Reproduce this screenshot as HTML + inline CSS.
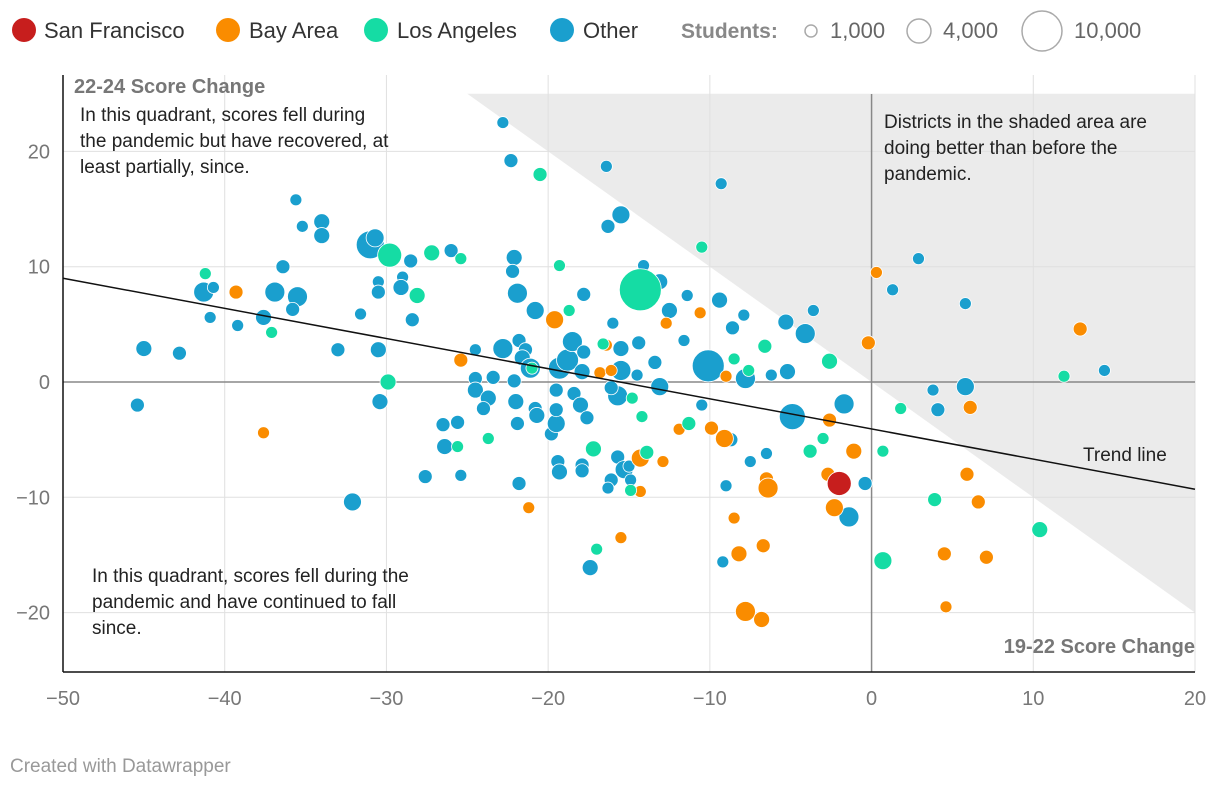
<!DOCTYPE html>
<html><head><meta charset="utf-8">
<style>
body{margin:0;background:#fff;font-family:"Liberation Sans",Arial,sans-serif;}
svg{display:block}
</style></head>
<body>
<svg id="chart" width="1220" height="788" viewBox="0 0 1220 788" xmlns="http://www.w3.org/2000/svg">
  <g font-size="22" fill="#333">
    <g><circle cx="24" cy="30" r="12" fill="#c71e1d"/><text x="44" y="38">San Francisco</text></g>
    <g><circle cx="228" cy="30" r="12" fill="#fa8c00"/><text x="249" y="38">Bay Area</text></g>
    <g><circle cx="376" cy="30" r="12" fill="#15dca4"/><text x="397" y="38">Los Angeles</text></g>
    <g><circle cx="562" cy="30" r="12" fill="#1a9fce"/><text x="583" y="38">Other</text></g>
    <text x="681" y="38" font-weight="bold" fill="#888" font-size="21">Students:</text>
    <g><circle cx="811" cy="31" r="6" fill="none" stroke="#aaa" stroke-width="1.5"/><text x="830" y="38" fill="#666">1,000</text></g>
    <g><circle cx="919" cy="31" r="12" fill="none" stroke="#aaa" stroke-width="1.5"/><text x="943" y="38" fill="#666">4,000</text></g>
    <g><circle cx="1042" cy="31" r="20" fill="none" stroke="#aaa" stroke-width="1.5"/><text x="1074" y="38" fill="#666">10,000</text></g>
  </g>
  <g id="plot"></g>
  <text x="10" y="772" font-size="19" fill="#999">Created with Datawrapper</text>
</svg>
<script>
const xTicks=[-50,-40,-30,-20,-10,0,10,20];
const yTicks=[20,10,0,-10,-20];
const regionNames=["Other","San Francisco","Bay Area","Los Angeles"];
const colors=["#1a9fce","#c71e1d","#fa8c00","#15dca4"];
const xs=[-22.8,-22.3,-16.4,-9.3,-35.6,-15.5,-16.3,-34.0,-35.2,-34.0,-31.0,-30.7,-26.0,-22.1,-22.2,-36.4,-28.5,-29.0,-30.5,-29.1,-21.9,-17.8,-14.1,-13.1,-11.4,-9.4,-7.9,-8.6,-3.6,-5.3,-4.1,2.9,1.3,5.8,14.4,5.8,3.8,4.1,-1.7,-0.4,-1.4,-4.9,-5.2,-6.2,-7.8,-10.1,-10.5,-8.7,-7.5,-6.5,-9.0,-9.2,-41.3,-40.7,-40.9,-39.2,-37.6,-36.9,-35.5,-35.8,-31.6,-28.4,-30.5,-45.0,-42.8,-45.4,-33.0,-30.5,-30.4,-32.1,-27.6,-26.4,-26.5,-25.6,-25.4,-24.5,-24.5,-23.4,-24.5,-23.7,-24.0,-22.8,-21.8,-21.4,-21.6,-22.1,-21.1,-22.0,-21.9,-20.8,-20.7,-20.8,-19.8,-19.5,-19.5,-19.3,-18.8,-18.5,-17.8,-17.9,-18.4,-18.0,-17.6,-19.4,-19.3,-17.9,-17.9,-21.8,-16.0,-15.5,-15.5,-15.7,-16.1,-15.7,-15.3,-16.1,-16.3,-14.9,-15.0,-17.4,-14.5,-13.4,-13.1,-12.5,-11.6,-14.4,-19.5,
-39.3,-37.6,-25.4,-19.6,-21.2,-16.8,-16.4,-16.1,-12.7,-10.6,-14.3,-12.9,-14.3,-15.5,-11.9,-9.9,-9.1,-9.0,-8.5,-8.2,-7.8,-6.7,-6.8,-6.5,-6.4,-2.6,-2.7,-2.3,-1.1,-0.2,0.3,6.1,5.9,6.6,4.5,4.6,7.1,12.9,
-41.2,-37.1,-29.8,-27.2,-25.4,-28.1,-29.9,-20.5,-19.3,-14.3,-10.5,-18.7,-16.6,-14.8,-14.2,-13.9,-14.9,-17.2,-23.7,-25.6,-21.0,-11.3,-8.5,-7.6,-6.6,-2.6,-3.0,-3.8,0.7,0.7,1.8,3.9,10.4,11.9,-17.0,
-2.0];
const ys=[22.5,19.2,18.7,17.2,15.8,14.5,13.5,13.9,13.5,12.7,11.9,12.5,11.4,10.8,9.6,10.0,10.5,9.1,8.7,8.2,7.7,7.6,10.1,8.7,7.5,7.1,5.8,4.7,6.2,5.2,4.2,10.7,8.0,6.8,1.0,-0.4,-0.7,-2.4,-1.9,-8.8,-11.7,-3.0,0.9,0.6,0.3,1.4,-2.0,-5.0,-6.9,-6.2,-9.0,-15.6,7.8,8.2,5.6,4.9,5.6,7.8,7.4,6.3,5.9,5.4,7.8,2.9,2.5,-2.0,2.8,2.8,-1.7,-10.4,-8.2,-5.6,-3.7,-3.5,-8.1,2.8,0.3,0.4,-0.7,-1.4,-2.3,2.9,3.6,2.8,2.1,0.1,1.2,-1.7,-3.6,-2.3,-2.9,6.2,-4.5,-3.6,-2.4,1.2,1.9,3.5,2.6,0.9,-1.0,-2.0,-3.1,-6.9,-7.8,-7.2,-7.7,-8.8,5.1,2.9,1.0,-1.2,-0.5,-6.5,-7.6,-8.5,-9.2,-8.5,-7.3,-16.1,0.6,1.7,-0.4,6.2,3.6,3.4,-0.7,
7.8,-4.4,1.9,5.4,-10.9,0.8,3.2,1.0,5.1,6.0,-6.6,-6.9,-9.5,-13.5,-4.1,-4.0,-4.9,0.5,-11.8,-14.9,-19.9,-14.2,-20.6,-8.4,-9.2,-3.3,-8.0,-10.9,-6.0,3.4,9.5,-2.2,-8.0,-10.4,-14.9,-19.5,-15.2,4.6,
9.4,4.3,11.0,11.2,10.7,7.5,0.0,18.0,10.1,8.0,11.7,6.2,3.3,-1.4,-3.0,-6.1,-9.4,-5.8,-4.9,-5.6,1.2,-3.6,2.0,1.0,3.1,1.8,-4.9,-6.0,-6.0,-15.5,-2.3,-10.2,-12.8,0.5,-14.5,
-8.8];
const students=[1000,1360,1000,1000,1000,2240,1360,1770,1000,1770,5430,2240,1360,1770,1360,1360,1360,1000,1000,1770,2770,1360,1000,1770,1000,1770,1000,1360,1000,1770,2770,1000,1000,1000,1000,2240,1000,1360,2770,1360,2770,4680,1770,1000,2770,7090,1000,1360,1000,1000,1000,1000,2770,1000,1000,1000,1770,2770,2770,1360,1000,1360,1360,1770,1360,1360,1360,1770,1770,2240,1360,1770,1360,1360,1000,1000,1360,1360,1770,1770,1360,2770,1360,1360,1770,1360,2770,1770,1360,1360,1770,2240,1360,2240,1360,3350,3350,2770,1360,1770,1360,1770,1360,1360,1770,1360,1360,1360,1000,1770,2770,2770,1360,1360,2240,1360,1000,1000,1000,1770,1000,1360,2240,1770,1000,1360,1360,
1360,1000,1360,2240,1000,1000,1000,1000,1000,1000,2240,1000,1000,1000,1000,1360,2240,1000,1000,1770,2770,1360,1770,1360,2770,1360,1360,2240,1770,1360,1000,1360,1360,1360,1360,1000,1360,1360,
1000,1000,4000,1770,1000,1770,1770,1360,1000,12200,1000,1000,1000,1000,1000,1360,1000,1770,1000,1000,1000,1360,1000,1000,1360,1770,1000,1360,1000,2240,1000,1360,1770,1000,1000,
4000];
const groupCounts=[127,38,35,1];
const groupCodes=[0,2,3,1];
const regions=[];
groupCounts.forEach((n,g)=>{for(let i=0;i<n;i++)regions.push(groupCodes[g]);});
const trendStart=[-50,9.0], trendEnd=[20,-9.3];

const L=63,R=1195,T=94,B=672;
const X=v=>L+(v+50)/70*(R-L);
const Y=v=>382-v*11.53;
const rScale=s=>0.19*Math.sqrt(s);
const NS="http://www.w3.org/2000/svg";
const plot=document.getElementById('plot');
function mk(tag,attrs,parent){const e=document.createElementNS(NS,tag);for(const k in attrs)e.setAttribute(k,attrs[k]);(parent||plot).appendChild(e);return e;}

const shade=mk('polygon',{points:`${X(-25)},${Y(25)} ${X(20)},${Y(25)} ${X(20)},${Y(-20)}`,fill:"#ebebeb"});



xTicks.forEach(t=>{
  if(t!==-50&&t!==0){const g=mk('line',{x1:X(t),x2:X(t),y1:75,y2:B,stroke:"#e0e0e0","stroke-width":1});
  
  }
  const lb=mk('text',{x:X(t),y:705,"text-anchor":"middle","font-size":"20",fill:"#777"});
  lb.textContent=(t<0?"\u2212"+(-t):t);
  
  
});
yTicks.forEach(t=>{
  if(t!==0){const g=mk('line',{x1:L,x2:R,y1:Y(t),y2:Y(t),stroke:"#e0e0e0","stroke-width":1});
  
  }
  const lb=mk('text',{x:50,y:Y(t)+7,"text-anchor":"end","font-size":"20",fill:"#777"});
  lb.textContent=(t<0?"\u2212"+(-t):t);
  
  
});
const zx=mk('line',{x1:X(0),x2:X(0),y1:T,y2:B,stroke:"#888","stroke-width":1.5});


const zy=mk('line',{x1:L,x2:R,y1:Y(0),y2:Y(0),stroke:"#888","stroke-width":1.5});



xs.forEach((v,i)=>{
  const c=mk('circle',{cx:X(v),cy:Y(ys[i]),r:rScale(students[i]),fill:colors[regions[i]],stroke:"#fff","stroke-width":0.8});
  
  
});
const tr=mk('line',{x1:X(trendStart[0]),y1:Y(trendStart[1]),x2:X(trendEnd[0]),y2:Y(trendEnd[1]),stroke:"#111","stroke-width":1.5});



const ax1=mk('line',{x1:L,x2:L,y1:75,y2:B,stroke:"#111","stroke-width":1.5});


const ax2=mk('line',{x1:L,x2:R,y1:B,y2:B,stroke:"#111","stroke-width":1.5});



function txt(name,x,y,lines,opts){
  const t=mk('text',Object.assign({x:x,y:y,"font-size":"19",fill:"#222"},opts||{}));
  
  
  lines.forEach((l,i)=>{const s=mk('tspan',{x:x,dy:i?26:0},t);s.textContent=l;});
}
txt('y-axis-title',74,93,["22-24 Score Change"],{"font-weight":"bold",fill:"#777","font-size":"20"});
txt('x-axis-title',1195,653,["19-22 Score Change"],{"font-weight":"bold",fill:"#777","font-size":"20","text-anchor":"end"});
txt('annotation-top-left',80,121,["In this quadrant, scores fell during","the pandemic but have recovered, at","least partially, since."]);
txt('annotation-shaded',884,128,["Districts in the shaded area are","doing better than before the","pandemic."]);
txt('annotation-bottom-left',92,582,["In this quadrant, scores fell during the","pandemic and have continued to fall","since."]);
txt('trend-line-label',1083,461,["Trend line"]);
</script>
</body></html>
